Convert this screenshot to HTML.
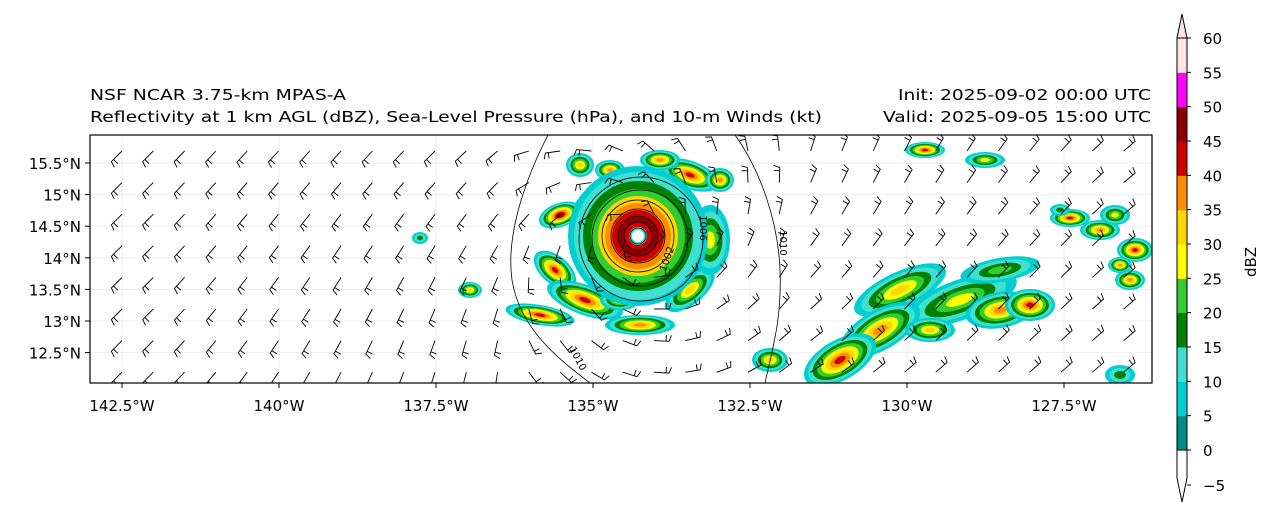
<!DOCTYPE html>
<html><head><meta charset="utf-8"><style>
body{margin:0;background:#fff;font-family:"Liberation Sans","DejaVu Sans",sans-serif;}
#wrap{position:relative;width:1272px;height:520px;overflow:hidden;}
svg text{font-family:"DejaVu Sans","Liberation Sans",sans-serif;}
</style></head><body>
<div id="wrap">
<svg id="svg" width="1272" height="520" xmlns="http://www.w3.org/2000/svg">
<text x="90" y="100" font-size="15.5" textLength="256" lengthAdjust="spacingAndGlyphs">NSF NCAR 3.75-km MPAS-A</text>
<text x="90" y="122" font-size="15.5" textLength="732" lengthAdjust="spacingAndGlyphs">Reflectivity at 1 km AGL (dBZ), Sea-Level Pressure (hPa), and 10-m Winds (kt)</text>
<text x="898" y="100" font-size="15.5" textLength="253" lengthAdjust="spacingAndGlyphs">Init: 2025-09-02 00:00 UTC</text>
<text x="883" y="122" font-size="15.5" textLength="268" lengthAdjust="spacingAndGlyphs">Valid: 2025-09-05 15:00 UTC</text>
<defs><clipPath id="mapclip"><rect x="90" y="135" width="1062" height="248"/></clipPath></defs>
<g id="map" clip-path="url(#mapclip)"></g>
<rect x="90" y="135" width="1062" height="248" fill="none" stroke="#000" stroke-width="1.2"/>
<g id="axes"></g>
<g id="cbar"></g>
</svg>
</div>
<script>
const lonTicks=[-142.5,-140,-137.5,-135,-132.5,-130,-127.5];
const lonLabels=["142.5°W","140°W","137.5°W","135°W","132.5°W","130°W","127.5°W"];
const latTicks=[15.5,15,14.5,14,13.5,13,12.5];
const latLabels=["15.5°N","15°N","14.5°N","14°N","13.5°N","13°N","12.5°N"];
const cbLevels=[-5,0,5,10,15,20,25,30,35,40,45,50,55,60];
const cbColors=["#ffffff","#008b8b","#00ced1","#40e0d0","#008000","#32cd32","#ffff00","#ffd700","#ff8c00","#cc0000","#8b0000","#ff00ff","#ffe4e1"];
const NS="http://www.w3.org/2000/svg";
function X(lon){return 122+(lon+142.5)*62.8;}
function Y(lat){return 163+(15.5-lat)*63.2;}
function el(t,a,p){const e=document.createElementNS(NS,t);for(const k in a)e.setAttribute(k,a[k]);p.appendChild(e);return e;}
const mapG=document.getElementById('map'),axesG=document.getElementById('axes'),cbG=document.getElementById('cbar');
lonTicks.forEach(v=>{const l=el('line',{x1:X(v),x2:X(v),y1:135,y2:383,stroke:'#eee','stroke-width':1},mapG);

});
latTicks.forEach(v=>{const l=el('line',{x1:90,x2:1152,y1:Y(v),y2:Y(v),stroke:'#eee','stroke-width':1},mapG);

});
const C=["#00ced1","#40e0d0","#008000","#32cd32","#ffff00","#ffd700","#ff8c00","#cc0000","#8b0000"];
const cells=[
[600,200,28,16,7,-30],[560,215,22,12,8,-20],[690,175,30,14,7,20],[660,160,20,10,6,0],[580,165,14,12,5,0],
[555,270,25,14,7,40],[585,300,40,15,7,20],[540,315,35,10,7,10],[640,325,35,10,6,0],[690,290,30,14,5,-40],
[710,240,20,35,4,0],[620,300,20,10,5,0],[470,290,12,8,5,0],[720,180,14,12,6,0],[610,170,15,10,6,0],
[925,150,20,8,7,0],[985,160,20,8,4,0],[1070,218,20,9,7,0],[1100,230,20,10,6,0],[1135,250,18,12,7,0],
[1120,265,12,8,6,0],[1130,280,15,10,6,0],[900,290,50,18,5,-25],[960,300,60,20,4,-20],[1000,310,35,18,6,-10],
[1030,305,25,16,7,0],[880,330,45,20,6,-30],[840,360,40,20,7,-30],[930,330,25,12,5,0],[1000,270,40,12,3,-10],
[770,360,18,12,5,0],[420,238,8,6,2,0],[1120,375,15,10,2,0],[1060,210,10,6,2,0],[1115,215,15,10,4,0]];
cells.forEach(c=>{for(let k=0;k<=c[4];k++){const f=1-k/(c[4]+1.3);
const e=el('ellipse',{cx:c[0],cy:c[1],rx:c[2]*f,ry:c[3]*f,fill:C[k],transform:`rotate(${c[5]} ${c[0]} ${c[1]})`},mapG);

}});
const hx=638,hy=236;
[[70,C[0]],[64,C[1]],[55,C[2]],[47,C[3]],[40,C[5]],[33,C[6]],[26,C[7]],[20,C[8]],[14,C[7]],[9,'#40e0d0'],[6,'#fff']].forEach(r=>{
const e=el('circle',{cx:hx,cy:hy,r:r[0],fill:r[1]},mapG);

});
[[hx,hy,8],[hx,hy,14],[hx,hy,20],[hx,hy,27],[hx,hy,36],[hx+2,hy+2,48],[hx+3,hy+3,62]].forEach(r=>{
const e=el('circle',{cx:r[0],cy:r[1],r:r[2],fill:'none',stroke:'#000','stroke-width':0.8},mapG);

});
[["M548,135 C530,170 505,230 512,280 C520,330 560,360 590,383","contour-1010-west"],["M735,135 C760,170 778,220 780,270 C782,320 772,350 765,383","contour-1010-east"]].forEach(p=>{
const e=el('path',{d:p[0],fill:'none',stroke:'#000','stroke-width':0.8},mapG);

});
for(let i=0;i<35;i++)for(let j=0;j<8;j++){
const x=122+i*31.3,y=151+j*31.6;
const dx=x-hx,dy=y-hy,d=Math.hypot(dx,dy)+20;
let ang=Math.atan2(dy,dx)+Math.PI/2+0.4; let w=Math.max(0,1-d/500);
let vx=Math.cos(ang)*w*2+(x<500?0.7:(x>800?-0.6:0)),vy=Math.sin(ang)*w*2+(x<500?-0.7:(x>800?0.5:0.3));
const n=Math.hypot(vx,vy)||1; vx/=n;vy/=n;
const L=15,ex=x-vx*L,ey=y-vy*L;
const px=-vy*6,py=vx*6;
const g=el('path',{d:`M${x},${y}L${ex},${ey}l${px-vx*2},${py-vy*2}M${ex+vx*3},${ey+vy*3}l${px},${py}`,fill:'none',stroke:'#000','stroke-width':0.9},mapG);

}
[[575,360,62,"1010"],[780,243,90,"1010"],[670,260,-70,"1002"],[700,228,90,"1006"]].forEach(t=>{
const e=el('text',{x:t[0],y:t[1],'font-size':10,transform:`rotate(${t[2]} ${t[0]} ${t[1]})`,'text-anchor':'middle'},mapG);e.textContent=t[3];

});
lonTicks.forEach((v,i)=>{el('line',{x1:X(v),x2:X(v),y1:383,y2:388,stroke:'#000'},axesG);
const t=el('text',{x:X(v),y:411,'font-size':15,'text-anchor':'middle'},axesG);t.textContent=lonLabels[i];

});
latTicks.forEach((v,i)=>{el('line',{x1:85,x2:90,y1:Y(v),y2:Y(v),stroke:'#000'},axesG);
const t=el('text',{x:81,y:Y(v)+6,'font-size':15,'text-anchor':'end'},axesG);t.textContent=latLabels[i];

});
const cbx=1177,cbw=10,cbTop=38,step=(450-38)/12;
function CY(v){return 450-(v)/5*step;}
for(let k=1;k<cbColors.length;k++){const r=el('rect',{x:cbx,y:CY(cbLevels[k+1]),width:cbw,height:step+0.5,fill:cbColors[k]},cbG);

}
el('path',{d:`M${cbx},${cbTop} L${cbx+cbw/2},14 L${cbx+cbw},${cbTop}Z`,fill:cbColors[12],stroke:'#000','stroke-width':1},cbG);
el('path',{d:`M${cbx},450 L${cbx},478 L${cbx+cbw/2},502 L${cbx+cbw},478 L${cbx+cbw},450`,fill:'#fff',stroke:'#000','stroke-width':1},cbG);
el('rect',{x:cbx,y:cbTop,width:cbw,height:412,fill:'none',stroke:'#000','stroke-width':1},cbG);
const tickY=v=>v<0?485:CY(v);
cbLevels.forEach(v=>{el('line',{x1:cbx+cbw,x2:cbx+cbw+4,y1:tickY(v),y2:tickY(v),stroke:'#000'},cbG);
const t=el('text',{x:1203,y:tickY(v)+6,'font-size':15},cbG);t.textContent=v<0?'\u2212'+(-v):v;

});
const lb=el('text',{x:1256,y:262,'font-size':15,'text-anchor':'middle',transform:'rotate(-90 1256 262)'},cbG);lb.textContent='dBZ';


</script>
</body></html>
